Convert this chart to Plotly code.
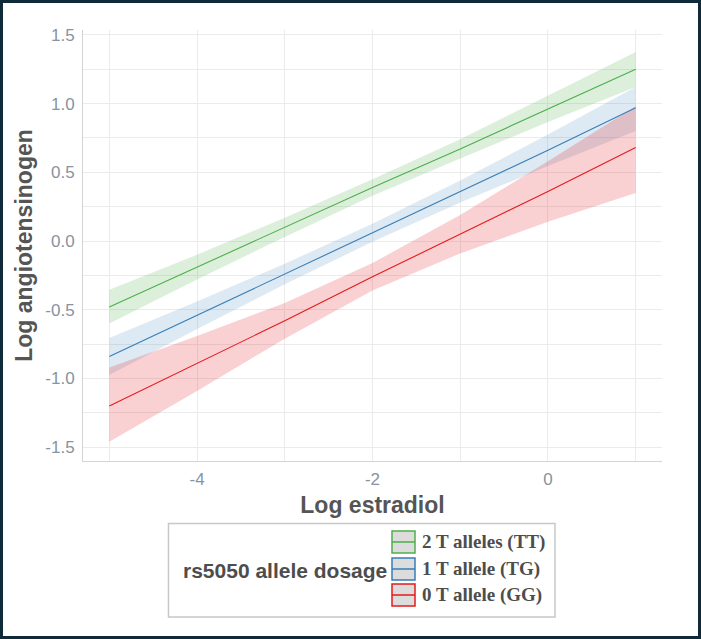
import plotly.graph_objects as go

# ---- data ----
x_vals = [-5, -4, -3, -2, -1, 0, 1]

groups = ["2 T alleles (TT)", "1 T allele (TG)", "0 T allele (GG)"]

fit_tt = [-0.48, -0.19, 0.10, 0.39, 0.67, 0.96, 1.25]
lo_tt = [-0.60, -0.28, 0.03, 0.33, 0.60, 0.865, 1.12]
hi_tt = [-0.355, -0.10, 0.17, 0.45, 0.74, 1.055, 1.375]

fit_tg = [-0.84, -0.54, -0.24, 0.06, 0.36, 0.66, 0.97]
lo_tg = [-0.975, -0.64, -0.315, -0.005, 0.28, 0.545, 0.80]
hi_tg = [-0.705, -0.44, -0.165, 0.125, 0.44, 0.775, 1.12]

fit_gg = [-1.20, -0.89, -0.58, -0.26, 0.05, 0.36, 0.68]
lo_gg = [-1.46, -1.09, -0.71, -0.36, -0.09, 0.14, 0.35]
hi_gg = [-0.92, -0.69, -0.45, -0.16, 0.19, 0.58, 0.98]

x_tickvals = [-4, -2, 0]
x_ticktext = ["-4", "-2", "0"]
y_tickvals = [-1.5, -1.0, -0.5, 0.0, 0.5, 1.0, 1.5]
y_ticktext = ["-1.5", "-1.0", "-0.5", "0.0", "0.5", "1.0", "1.5"]

line_colors = ["#4DAF4A", "#377EB8", "#E41A1C"]
fill_colors = ["rgba(77,175,74,0.2)", "rgba(55,126,184,0.17)", "rgba(228,26,28,0.2)"]

series = [(fit_tt, lo_tt, hi_tt), (fit_tg, lo_tg, hi_tg), (fit_gg, lo_gg, hi_gg)]

fig = go.Figure()
for (fit, lo, hi), lc, fc, name in zip(series, line_colors, fill_colors, groups):
    fig.add_trace(go.Scatter(
        x=x_vals + x_vals[::-1], y=hi + lo[::-1], fill="toself",
        fillcolor=fc, line=dict(width=0), mode="lines",
        hoverinfo="skip", showlegend=False))
for (fit, lo, hi), lc, fc, name in zip(series, line_colors, fill_colors, groups):
    fig.add_trace(go.Scatter(
        x=x_vals, y=fit, mode="lines", line=dict(color=lc, width=1.1),
        name=name, showlegend=False))

# plot area in pixels
L, R, T, B = 83, 662, 30, 461
W, H = 701, 639
pw, ph = R - L, B - T


def px(xp):
    return (xp - L) / pw


def py(yp):
    return (B - yp) / ph


grid = "#ebebeb"
fig.update_layout(
    width=W, height=H,
    margin=dict(l=L, r=W - R, t=T, b=H - B, autoexpand=False),
    paper_bgcolor="white", plot_bgcolor="white",
    showlegend=False,
    xaxis=dict(
        range=[-5.3, 1.3], tickmode="array", tickvals=x_tickvals, ticktext=x_ticktext,
        showgrid=True, gridcolor=grid, gridwidth=1, zeroline=False,
        minor=dict(dtick=1, tick0=0, showgrid=True, gridcolor=grid, gridwidth=1),
        showline=True, linecolor="#d4d4d4", linewidth=1,
        ticks="", ticklabelstandoff=3,
        tickfont=dict(family="Liberation Sans, Arial", size=17, color="#8793a0"),
        title=dict(text="<b>Log estradiol</b>", standoff=8,
                   font=dict(family="Liberation Sans, Arial", size=23, color="#555555")),
    ),
    yaxis=dict(
        range=[-1.60, 1.535], tickmode="array", tickvals=y_tickvals, ticktext=y_ticktext,
        showgrid=True, gridcolor=grid, gridwidth=1, zeroline=False,
        minor=dict(dtick=0.25, tick0=0, showgrid=True, gridcolor=grid, gridwidth=1),
        showline=True, linecolor="#d4d4d4", linewidth=1,
        ticks="", ticklabelstandoff=4,
        tickfont=dict(family="Liberation Sans, Arial", size=17, color="#8793a0"),
        title=dict(text="<b>Log angiotensinogen</b>", standoff=6,
                   font=dict(family="Liberation Sans, Arial", size=23, color="#555555")),
    ),
)

shapes = []
# outer frame
shapes.append(dict(type="rect", xref="paper", yref="paper",
                   x0=px(1.5), x1=px(W - 1.5), y0=py(H - 1.5), y1=py(1.5),
                   line=dict(color="#0f2b3a", width=3), fillcolor="rgba(0,0,0,0)", layer="above"))
# legend box
shapes.append(dict(type="rect", xref="paper", yref="paper",
                   x0=px(168.5), x1=px(555), y0=py(617), y1=py(523.5),
                   line=dict(color="#c8c8c8", width=1.5), fillcolor="white"))
annotations = [dict(xref="paper", yref="paper", x=px(181), y=py(570), xanchor="left",
                    yanchor="middle", showarrow=False, text="<b>rs5050 allele dosage</b>",
                    font=dict(family="Liberation Sans, Arial", size=21, color="#4d4d4d"))]
row_y = [542, 569, 595]
for name, lc, ry in zip(groups, line_colors, row_y):
    shapes.append(dict(type="rect", xref="paper", yref="paper",
                       x0=px(392), x1=px(415), y0=py(ry + 11), y1=py(ry - 11),
                       line=dict(color=lc, width=1.5), fillcolor="#dcdcdc"))
    shapes.append(dict(type="line", xref="paper", yref="paper",
                       x0=px(392), x1=px(415), y0=py(ry), y1=py(ry),
                       line=dict(color=lc, width=1.5)))
    annotations.append(dict(xref="paper", yref="paper", x=px(420), y=py(ry), xanchor="left",
                            yanchor="middle", showarrow=False, text="<b>" + name + "</b>",
                            font=dict(family="Liberation Serif, Times New Roman", size=19,
                                      color="#4d4d4d")))
fig.update_layout(shapes=shapes, annotations=annotations)

fig.write_html("out.html")
